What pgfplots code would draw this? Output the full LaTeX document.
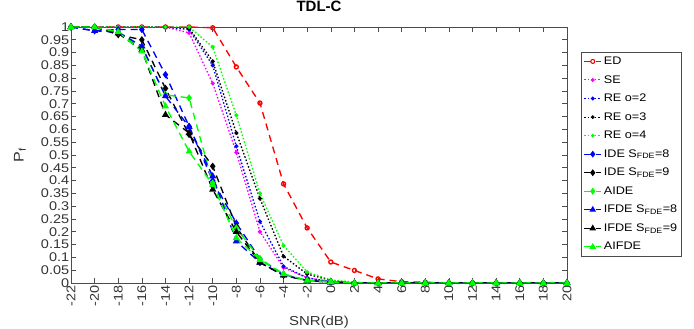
\documentclass[border=0pt]{standalone}
\usepackage{pgfplots}
\pgfplotsset{compat=1.18}
\usepackage{pgfplotstable}
\usepackage{fontspec}
\setmainfont{Liberation Sans}
\newfontfamily\wide[FakeStretch=1.15]{Liberation Sans}
\definecolor{mred}{rgb}{1,0,0}
\definecolor{mmag}{rgb}{1,0,1}
\definecolor{mblue}{rgb}{0,0,1}
\definecolor{mgreen}{rgb}{0,1,0}
\definecolor{axgray}{rgb}{0.3,0.3,0.3}
\pgfplotstableread{
x    ED     SE     REa    REb    REc    IDEa   IDEb   AIDE   IFDEa  IFDEb  AIFDE
-22  1      1      1      1      1      1      1      1      1      1      1
-20  1      1      1      1      1      0.985  1      1      0.985  1      1
-18  1      1      1      1      1      0.99   0.97   0.98   0.98   0.975  0.98
-16  1      1      1      1      1      0.99   0.95   0.918  0.925  0.91   0.905
-14  1      1      1      1      1      0.814  0.76   0.735  0.73   0.657  0.69
-12  1      0.977  0.99   0.995  1      0.612  0.58   0.723  0.61   0.586  0.514
-10  0.997  0.78   0.85   0.866  0.922  0.40   0.456  0.39   0.417  0.365  0.384
-8   0.844  0.51   0.534  0.586  0.655  0.234  0.22   0.215  0.163  0.20   0.176
-6   0.703  0.20   0.24   0.33   0.35   0.094  0.08   0.094  0.08   0.08   0.09
-4   0.387  0.06   0.065  0.104  0.146  0.033  0.03   0.035  0.03   0.03   0.035
-2   0.215  0.02   0.02   0.035  0.043  0.01   0.01   0.01   0.01   0.01   0.01
0    0.082  0.005  0.005  0.01   0.012  0.005  0.003  0.003  0.003  0.003  0.005
2    0.049  0      0      0      0.003  0      0      0      0      0      0
4    0.016  0      0      0      0      0      0      0      0      0      0
6    0.005  0      0      0      0      0      0      0      0      0      0
8    0.003  0      0      0      0      0      0      0      0      0      0
10   0      0      0      0      0      0      0      0      0      0      0
12   0      0      0      0      0      0      0      0      0      0      0
14   0      0      0      0      0      0      0      0      0      0      0
16   0      0      0      0      0      0      0      0      0      0      0
18   0      0      0      0      0      0      0      0      0      0      0
20   0      0      0      0      0      0      0      0      0      0      0
}\datatable
\begin{document}
\begin{tikzpicture}
\useasboundingbox (-71pt,-46pt) rectangle (623pt,283pt);
\begin{axis}[
  at={(0,0)}, anchor=south west,
  scale only axis, width=496pt, height=256pt,
  xmin=-22, xmax=20, ymin=0, ymax=1,
  xtick={-22,-20,...,20},
  ytick={0,0.05,0.1,0.15,0.2,0.25,0.3,0.35,0.4,0.45,0.5,0.55,0.6,0.65,0.7,0.75,0.8,0.85,0.9,0.95,1},
  yticklabels={0,0.05,0.1,0.15,0.2,0.25,0.3,0.35,0.4,0.45,0.5,0.55,0.6,0.65,0.7,0.75,0.8,0.85,0.9,0.95,1},
  /pgf/number format/assume math mode=true,
  tick align=inside, major tick length=5pt,
  axis line style={axgray}, tick style={axgray, line width=0.6pt},
  every axis/.append style={line width=0.7pt},
  xticklabel style={rotate=90, anchor=east, font=\wide\fontsize{12.6}{12.6}\selectfont, text=black!80, inner sep=2pt},
  yticklabel style={font=\wide\fontsize{12.6}{12.6}\selectfont, text=black!80, inner sep=1.5pt},
  xlabel={SNR(dB)},
  xlabel style={at={(axis description cs:0.5,-0.152)}, anchor=center, font=\wide\fontsize{13}{13}\selectfont, text=black!80},
  ylabel={P\textsubscript{f}},
  ylabel style={at={(axis description cs:-0.103,0.5)}, anchor=center, font=\wide\fontsize{14}{14}\selectfont, text=black!80},
  title={TDL-C},
  title style={at={(axis description cs:0.5,1.059)}, anchor=center, font=\bfseries\fontsize{15}{15}\selectfont},
  legend style={at={(1.028,0.902)}, anchor=north west, draw=axgray, line width=0.6pt,
    font=\wide\fontsize{11}{11}\selectfont, row sep=5.4pt, inner sep=2.5pt, cells={anchor=west}},
  legend cell align=left,
  legend image post style={line width=1.1pt},
  every axis plot/.append style={line width=1.35pt},
]
\addplot[color=mred, dash pattern=on 7pt off 5pt, mark=o, mark size=2pt, mark options={solid}] table[x=x,y=ED] {\datatable};
\addlegendentry{ED}
\addplot[color=mmag, dash pattern=on 1.5pt off 2pt, mark=*, mark size=1.3pt, mark options={solid}] table[x=x,y=SE] {\datatable};
\addlegendentry{SE}
\addplot[color=mblue, dash pattern=on 1.5pt off 2pt, mark=*, mark size=1.3pt, mark options={solid}] table[x=x,y=REa] {\datatable};
\addlegendentry{RE o=2}
\addplot[color=black, dash pattern=on 1.5pt off 2pt, mark=*, mark size=1.3pt, mark options={solid}] table[x=x,y=REb] {\datatable};
\addlegendentry{RE o=3}
\addplot[color=mgreen, dash pattern=on 1.5pt off 2pt, mark=*, mark size=1.3pt, mark options={solid}] table[x=x,y=REc] {\datatable};
\addlegendentry{RE o=4}
\addplot[color=mblue, dash pattern=on 7pt off 5pt, mark=diamond*, mark size=2.6pt, mark options={solid}] table[x=x,y=IDEa] {\datatable};
\addlegendentry{IDE S\textsubscript{FDE}=8}
\addplot[color=black, dash pattern=on 7pt off 5pt, mark=diamond*, mark size=2.6pt, mark options={solid}] table[x=x,y=IDEb] {\datatable};
\addlegendentry{IDE S\textsubscript{FDE}=9}
\addplot[color=mgreen, dash pattern=on 7pt off 5pt, mark=diamond*, mark size=2.6pt, mark options={solid}] table[x=x,y=AIDE] {\datatable};
\addlegendentry{AIDE}
\addplot[color=mblue, dash pattern=on 7pt off 5pt, mark=triangle*, mark size=2.8pt, mark options={solid}] table[x=x,y=IFDEa] {\datatable};
\addlegendentry{IFDE S\textsubscript{FDE}=8}
\addplot[color=black, dash pattern=on 7pt off 5pt, mark=triangle*, mark size=2.8pt, mark options={solid}] table[x=x,y=IFDEb] {\datatable};
\addlegendentry{IFDE S\textsubscript{FDE}=9}
\addplot[color=mgreen, dash pattern=on 7pt off 5pt, mark=triangle*, mark size=2.8pt, mark options={solid}] table[x=x,y=AIFDE] {\datatable};
\addlegendentry{AIFDE}
\end{axis}
\end{tikzpicture}
\end{document}
